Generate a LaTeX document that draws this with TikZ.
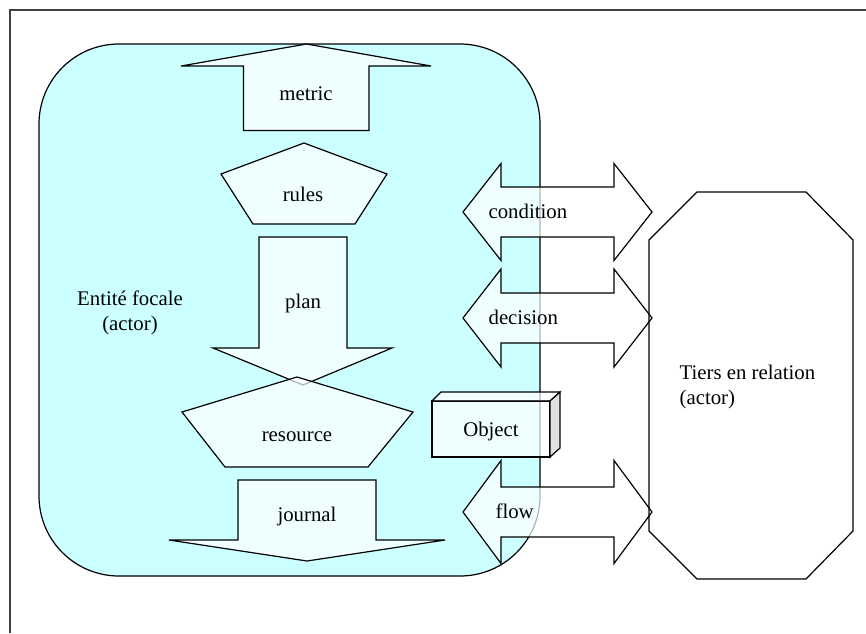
\documentclass[tikz,border=0pt]{standalone}
\usepackage{fontspec}
\setmainfont{Liberation Serif}
\definecolor{focalcyan}{RGB}{204,255,255}
\definecolor{sidegray}{RGB}{224,224,224}

\begin{document}
\begin{tikzpicture}[x=0.5pt, y=-0.5pt, line width=0.6pt,
        font=\fontsize{10.4}{12.5}\selectfont,
        shapebox/.style={draw, fill=white, fill opacity=0.7},
        lbl/.style={anchor=base, inner sep=0pt}]
    \useasboundingbox (0,0) rectangle (866,633);
    \draw [black!75, line width=1pt] (10,633) -- (10,9.5) -- (866,9.5);

    % focal entity
    \draw [fill=focalcyan, rounded corners=40pt] (39,44) rectangle (540,576);
    \node [lbl, align=center] (focal) at (130,330) {Entité focale\\(actor)};

    \draw [shapebox] (306.5,44) -- (431,66) -- (369,66) -- (369,130.5)
            -- (243.5,130.5) -- (243.5,66) -- (181,66) -- cycle;
    \node [lbl] (metric) at (306,100) {metric};

    \draw [shapebox] (304,143) -- (387,174) -- (355,224) -- (253,224)
            -- (221,174) -- cycle;
    \node [lbl] (rules) at (303,201) {rules};

    \draw [shapebox] (259,237) -- (347,237) -- (347,348) -- (392,348)
            -- (303,385) -- (213,348) -- (259,348) -- cycle;
    \node [lbl] (plan) at (303,308) {plan};

    \draw [shapebox] (297,377) -- (413,412) -- (368,467) -- (225,467)
            -- (182,412) -- cycle;
    \node [lbl] (resource) at (297,441) {resource};

    \draw [shapebox] (238,480) -- (376,480) -- (376,540) -- (445,540)
            -- (307,561) -- (169,540) -- (238,540) -- cycle;
    \node [lbl] (journal) at (307,521) {journal};

    % exchanges
    \foreach \y/\h/\x/\word in {212/48.5/488/condition, 318/49/488/decision, 512/51.5/495/flow} {
        \draw [shapebox] (463,\y) -- (501,\y-\h) -- (501,\y-25) -- (614,\y-25)
                -- (614,\y-\h) -- (652,\y) -- (614,\y+\h) -- (614,\y+25)
                -- (501,\y+25) -- (501,\y+\h) -- cycle;
        \node [lbl, anchor=base west] (\word) at (\x,\y+6.5) {\word};
    }

    \draw [shapebox] (432,401) rectangle (550,457);
    \draw [shapebox] (432,401) -- (441,392) -- (560,392) -- (550,401) -- cycle;
    \draw [fill=sidegray] (550,401) -- (560,392) -- (560,448) -- (550,457) -- cycle;
    \node [lbl] (object) at (491,436.5) {Object};

    % third party
    \draw (697,192) -- (806,192) -- (853,240) -- (853,531) -- (806,579)
            -- (697,579) -- (649,531) -- (649,240) -- cycle;
    \node [lbl, align=left, anchor=base west] (tiers) at (679,404) {Tiers en relation\\(actor)};

\end{tikzpicture}
\end{document}
